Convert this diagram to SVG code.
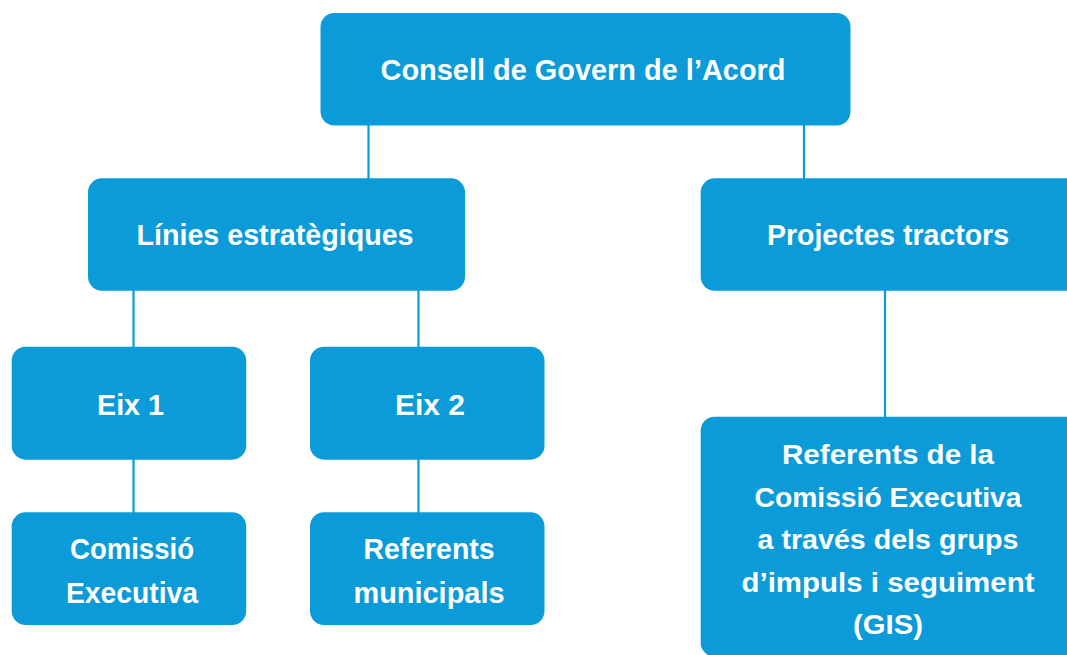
<svg xmlns="http://www.w3.org/2000/svg" width="1067" height="655" viewBox="0 0 1067 655">
<style>
.box{fill:#0b9bd8}
.t{fill:#ffffff;font-family:"Liberation Sans",Arial,sans-serif;font-weight:bold;font-size:30px;text-anchor:middle}
.s{font-size:28px}
.c{stroke:#0b9bd8;stroke-width:2.2;fill:none}
</style>
<rect width="1067" height="655" fill="#ffffff"/>
<g id="connectors">
<line class="c" x1="368.5" y1="120" x2="368.5" y2="182"/>
<line class="c" x1="804" y1="120" x2="804" y2="182"/>
<line class="c" x1="133.5" y1="286" x2="133.5" y2="351"/>
<line class="c" x1="418.5" y1="286" x2="418.5" y2="351"/>
<line class="c" x1="885" y1="286" x2="885" y2="421"/>
<line class="c" x1="133.5" y1="455" x2="133.5" y2="516"/>
<line class="c" x1="418.5" y1="455" x2="418.5" y2="516"/>
</g>
<g id="n-consell">
<rect class="box" x="320.5" y="13" width="530" height="112.5" rx="14"/>
<text class="t" x="583" y="80" textLength="405" lengthAdjust="spacingAndGlyphs">Consell de Govern de l’Acord</text>
</g>
<g id="n-linies">
<rect class="box" x="88" y="178.3" width="377" height="112.5" rx="14"/>
<text class="t" x="275" y="245" textLength="277" lengthAdjust="spacingAndGlyphs">Línies estratègiques</text>
</g>
<g id="n-projectes">
<rect class="box" x="700.7" y="178.3" width="390" height="112.5" rx="14"/>
<text class="t" x="888" y="245" textLength="242" lengthAdjust="spacingAndGlyphs">Projectes tractors</text>
</g>
<g id="n-eix1">
<rect class="box" x="11.7" y="346.7" width="234.5" height="113" rx="14"/>
<text class="t" x="130.5" y="415" textLength="67" lengthAdjust="spacingAndGlyphs">Eix 1</text>
</g>
<g id="n-eix2">
<rect class="box" x="310" y="346.7" width="234.5" height="113" rx="14"/>
<text class="t" x="430" y="415" textLength="70" lengthAdjust="spacingAndGlyphs">Eix 2</text>
</g>
<g id="n-comissio">
<rect class="box" x="11.7" y="512.3" width="234.5" height="112.7" rx="14"/>
<text class="t" x="132" y="559" textLength="124" lengthAdjust="spacingAndGlyphs">Comissió</text>
<text class="t" x="132" y="603" textLength="132" lengthAdjust="spacingAndGlyphs">Executiva</text>
</g>
<g id="n-referents-mun">
<rect class="box" x="310" y="512.3" width="234.5" height="112.7" rx="14"/>
<text class="t" x="429" y="559" textLength="131" lengthAdjust="spacingAndGlyphs">Referents</text>
<text class="t" x="429" y="603" textLength="151" lengthAdjust="spacingAndGlyphs">municipals</text>
</g>
<g id="n-referents-ce">
<rect class="box" x="700.7" y="416.7" width="390" height="240" rx="14"/>
<text class="t s" x="888" y="464" textLength="212" lengthAdjust="spacingAndGlyphs">Referents de la</text>
<text class="t s" x="888" y="507" textLength="267" lengthAdjust="spacingAndGlyphs">Comissió Executiva</text>
<text class="t s" x="888" y="549" textLength="261" lengthAdjust="spacingAndGlyphs">a través dels grups</text>
<text class="t s" x="888" y="592" textLength="293" lengthAdjust="spacingAndGlyphs">d’impuls i seguiment</text>
<text class="t s" x="888" y="634" textLength="70" lengthAdjust="spacingAndGlyphs">(GIS)</text>
</g>
</svg>
